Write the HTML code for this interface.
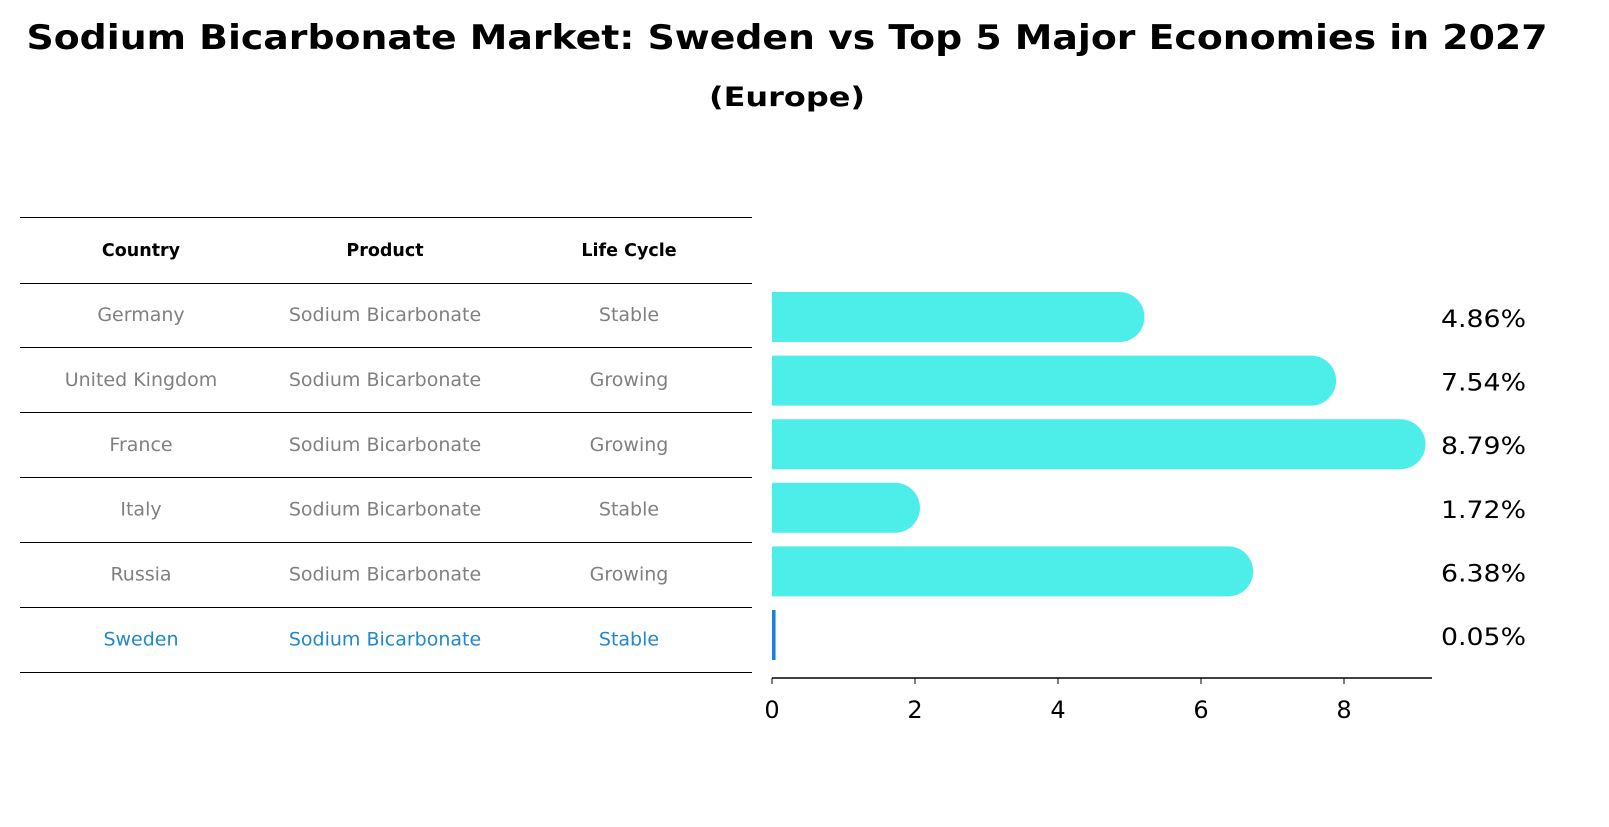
<!DOCTYPE html>
<html><head><meta charset="utf-8"><style>
body{margin:0;background:#fff;font-family:"DejaVu Sans","Liberation Sans",sans-serif;}
</style></head><body>
<svg width="1609" height="823" xmlns="http://www.w3.org/2000/svg">
<text x="787" y="49" text-anchor="middle" font-size="34" font-weight="bold" textLength="1521" lengthAdjust="spacingAndGlyphs">Sodium Bicarbonate Market: Sweden vs Top 5 Major Economies in 2027</text>
<text x="787" y="106" text-anchor="middle" font-size="27" font-weight="bold" textLength="156" lengthAdjust="spacingAndGlyphs">(Europe)</text>
<g id="table"></g>
<g id="bars"></g>
</svg>
<script>
const countries=["Germany","United Kingdom","France","Italy","Russia","Sweden"];
const products=["Sodium Bicarbonate","Sodium Bicarbonate","Sodium Bicarbonate","Sodium Bicarbonate","Sodium Bicarbonate","Sodium Bicarbonate"];
const lifecycles=["Stable","Growing","Growing","Stable","Growing","Stable"];
const values=[4.86,7.54,8.79,1.72,6.38,0.05];
const ticks=[0,2,4,6,8];
const NS="http://www.w3.org/2000/svg";
function mk(tag,attrs,parent,text){const e=document.createElementNS(NS,tag);for(const k in attrs)e.setAttribute(k,attrs[k]);if(text!==undefined)e.textContent=text;parent.appendChild(e);return e;}
const xs=v=>772+v*71.5;
const rowY=i=>317+i*63.6;
const tbl=document.getElementById('table');
const lines=[217,283,347,412,477,542,607,672];
lines.forEach(y=>{const l=mk('line',{x1:20,x2:752,y1:y+0.5,y2:y+0.5,stroke:'#000','stroke-width':1},tbl);

});
const cx=[141,385,629];
["Country","Product","Life Cycle"].forEach((h,j)=>{const t=mk('text',{x:cx[j],y:256,'text-anchor':'middle','font-size':17.5,'font-weight':'bold'},tbl,h);

});
countries.forEach((c,i)=>{const y=321+i*64.9;const col=i===5?'#1f88d0':'#808080';
[c,products[i],lifecycles[i]].forEach((s,j)=>{const t=mk('text',{x:cx[j],y:y,'text-anchor':'middle','font-size':19,fill:col},tbl,s);

});});
const g=document.getElementById('bars');
values.forEach((v,i)=>{const y=rowY(i);
if(i===5){const r=mk('rect',{x:772,y:y-25,width:Math.max(3,xs(v)-772),height:50,fill:'#1f7fe0'},g);

}
else{const w=xs(v)-772;const p=mk('path',{d:`M772 ${y-25} H${772+w} A25 25 0 0 1 ${772+w} ${y+25} H772 Z`,fill:'#4deeea'},g);

}
const t=mk('text',{x:1441,y:y+10,'font-size':24,textLength:85,lengthAdjust:'spacingAndGlyphs'},g,v.toFixed(2)+'%');

});
const ax=mk('line',{x1:772,x2:1432,y1:678,y2:678,stroke:'#000','stroke-width':1.5},g);


ticks.forEach(v=>{const tl=mk('line',{x1:xs(v),x2:xs(v),y1:678,y2:684,stroke:'#000'},g);


const t=mk('text',{x:xs(v),y:718,'text-anchor':'middle','font-size':24},g,String(v));

});
</script>
</body></html>
